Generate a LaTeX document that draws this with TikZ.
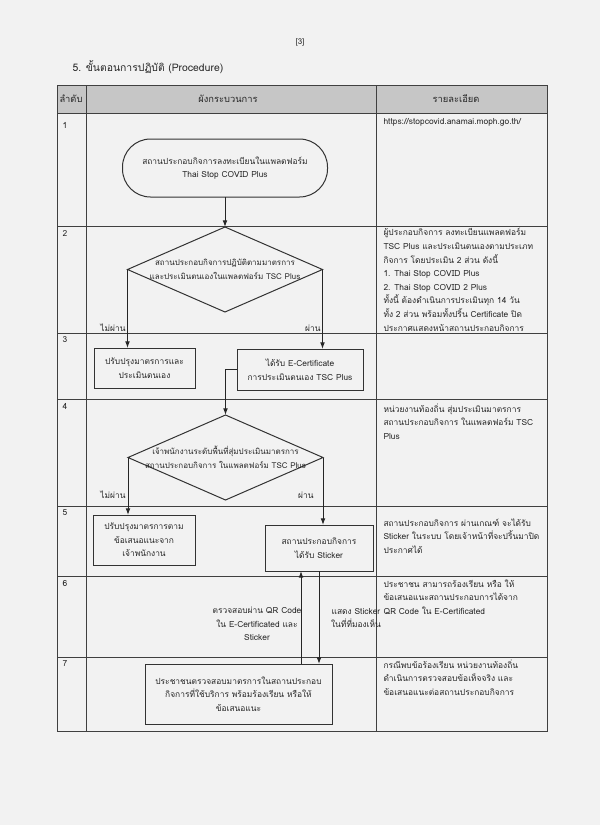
\documentclass[tikz,border=0pt]{standalone}
\usepackage{fontspec}
\setmainfont{Loma}[Script=Thai]
\usetikzlibrary{shapes.geometric,arrows.meta}

\tikzset{every picture/.style={line width=0.75pt}}
\tikzset{
  flowtxt/.style={align=center, font=\fontsize{6.3}{10.2}\selectfont, inner sep=0pt, text=black!85},
  detailtxt/.style={align=left, anchor=north west, font=\fontsize{6.3}{10.2}\selectfont, inner sep=0pt, text=black!85},
  stepbox/.style={flowtxt, draw=black!80, rectangle, outer sep=0pt},
  startbox/.style={flowtxt, draw=black!80, rectangle, rounded corners=21pt, minimum width=153.75pt, minimum height=43.5pt, outer sep=0pt},
  decision/.style={draw=black!80, diamond, minimum width=146.25pt, minimum height=63.75pt, inner sep=0pt, outer sep=0pt},
  decisiontxt/.style={flowtxt, font=\fontsize{6}{10.2}\selectfont},
  flowarrow/.style={draw=black!85, -{Latex[length=5pt,width=3.6pt]}},
  tableline/.style={draw=black!75, line width=0.6pt},
}

\begin{document}
\begin{tikzpicture}[x=0.75pt,y=0.75pt,yscale=-1,xscale=1]
%set diagram: 600 x 825
\useasboundingbox[fill=black!5] (0,0) rectangle (600,825);

% Text Node
\node[flowtxt, font=\fontsize{6}{7}\selectfont] (pageno) at (300,42) {[3]};
% Text Node
\node[flowtxt, anchor=west, font=\fontsize{7.8}{10}\selectfont] (title) at (72,67) {5. ขั้นตอนการปฏิบัติ (Procedure)};

%Shape: Table header
\fill[gray!45] (57,85) rectangle (547,113);
%Shape: Table
\draw[tableline] (57,85) rectangle (547,731);
\draw[tableline] (86,85) -- (86,731);
\draw[tableline] (376,85) -- (376,731);
\foreach \rowy in {113,226,333,399,506,576,657}
  \draw[tableline] (57,\rowy) -- (547,\rowy);

% Text Node
\node[flowtxt, font=\fontsize{7}{9}\selectfont] (headno) at (71,99) {ลำดับ};
% Text Node
\node[flowtxt, font=\fontsize{7}{9}\selectfont] (headflow) at (228,99) {ผังกระบวนการ};
% Text Node
\node[flowtxt, font=\fontsize{7}{9}\selectfont] (headdetail) at (456,99) {รายละเอียด};

% Row numbers
\foreach \rowno/\rowy in {1/125,2/233,3/340,4/406,5/513,6/583,7/664}
  \node[flowtxt, anchor=west] (no\rowno) at (62,\rowy) {\rowno};

%Shape: Start
\node[startbox] (register) at (225,168) {สถานประกอบกิจการลงทะเบียนในแพลตฟอร์ม\\Thai Stop COVID Plus};

%Shape: Diamond
\node[decision] (selfcheck) at (225,269.5) {};
% Text Node
\node[decisiontxt] (selfchecktxt) at (selfcheck) {สถานประกอบกิจการปฏิบัติตามมาตรการ\\และประเมินตนเองในแพลตฟอร์ม TSC Plus};

%Shape: Rectangle
\node[stepbox, minimum width=75.75pt, minimum height=30pt] (improve) at (144.5,368) {ปรับปรุงมาตรการและ\\ประเมินตนเอง};
%Shape: Rectangle
\node[stepbox, minimum width=94.5pt, minimum height=30.75pt] (ecert) at (300,369.5) {ได้รับ E-Certificate\\การประเมินตนเอง TSC Plus};

%Shape: Diamond
\node[decision] (audit) at (225.5,457.5) {};
% Text Node
\node[decisiontxt] (audittxt) at (audit) {เจ้าพนักงานระดับพื้นที่สุ่มประเมินมาตรการ\\สถานประกอบกิจการ ในแพลตฟอร์ม TSC Plus};

%Shape: Rectangle
\node[stepbox, minimum width=76.5pt, minimum height=37.5pt] (adjust) at (144,540) {ปรับปรุงมาตรการตาม\\ข้อเสนอแนะจาก\\เจ้าพนักงาน};
%Shape: Rectangle
\node[stepbox, minimum width=81pt, minimum height=34.5pt] (sticker) at (319,548) {สถานประกอบกิจการ\\ได้รับ Sticker};

%Shape: Rectangle
\node[stepbox, minimum width=140.25pt, minimum height=45pt] (citizen) at (238.5,694) {ประชาชนตรวจสอบมาตรการในสถานประกอบ\\กิจการที่ใช้บริการ พร้อมร้องเรียน หรือให้\\ข้อเสนอแนะ};

% Text Node
\node[flowtxt, anchor=east] (fail1) at (126,328) {ไม่ผ่าน};
% Text Node
\node[flowtxt, anchor=east] (pass1) at (321,328) {ผ่าน};
% Text Node
\node[flowtxt, anchor=east] (fail2) at (126,495) {ไม่ผ่าน};
% Text Node
\node[flowtxt, anchor=east] (pass2) at (314,495) {ผ่าน};
% Text Node
\node[flowtxt] (qrcheck) at (257,624) {ตรวจสอบผ่าน QR Code\\ใน E-Certificated และ\\Sticker};
% Text Node
\node[flowtxt] (showsticker) at (356,618) {แสดง Sticker\\ในที่ที่มองเห็น};

%Connectors
\coordinate (qrline) at (301,657);
\draw[flowarrow] (register) -- (selfcheck.north);
\draw[flowarrow] (selfcheck.west) -- (selfcheck.west |- improve.north);
\draw[flowarrow] (selfcheck.east) -- (selfcheck.east |- ecert.north);
\draw[flowarrow] (ecert.west) -| (audit.north);
\draw[flowarrow] (audit.west) -- (audit.west |- adjust.north);
\draw[flowarrow] (audit.east) -- (audit.east |- sticker.north);
\draw[flowarrow] (qrline |- citizen.north) -- (qrline |- sticker.south);
\draw[flowarrow] (sticker.south) -- (sticker.south |- citizen.north);

% Details
\node[detailtxt] (detail1) at (383,118) {https://stopcovid.anamai.moph.go.th/};
\node[detailtxt] (detail2) at (383,228) {ผู้ประกอบกิจการ ลงทะเบียนแพลตฟอร์ม\\TSC Plus และประเมินตนเองตามประเภท\\กิจการ โดยประเมิน 2 ส่วน ดังนี้\\1. Thai Stop COVID Plus\\2. Thai Stop COVID 2 Plus\\ทั้งนี้ ต้องดำเนินการประเมินทุก 14 วัน\\ทั้ง 2 ส่วน พร้อมทั้งปริ้น Certificate ปิด\\ประกาศแสดงหน้าสถานประกอบกิจการ};
\node[detailtxt] (detail4) at (383,403) {หน่วยงานท้องถิ่น สุ่มประเมินมาตรการ\\สถานประกอบกิจการ ในแพลตฟอร์ม TSC\\Plus};
\node[detailtxt] (detail5) at (383,518) {สถานประกอบกิจการ ผ่านเกณฑ์ จะได้รับ\\Sticker ในระบบ โดยเจ้าหน้าที่จะปริ้นมาปิด\\ประกาศได้};
\node[detailtxt] (detail6) at (383,579) {ประชาชน สามารถร้องเรียน หรือ ให้\\ข้อเสนอแนะสถานประกอบการได้จาก\\QR Code ใน E-Certificated};
\node[detailtxt] (detail7) at (383,659) {กรณีพบข้อร้องเรียน หน่วยงานท้องถิ่น\\ดำเนินการตรวจสอบข้อเท็จจริง และ\\ข้อเสนอแนะต่อสถานประกอบกิจการ};

\end{tikzpicture}
\end{document}
